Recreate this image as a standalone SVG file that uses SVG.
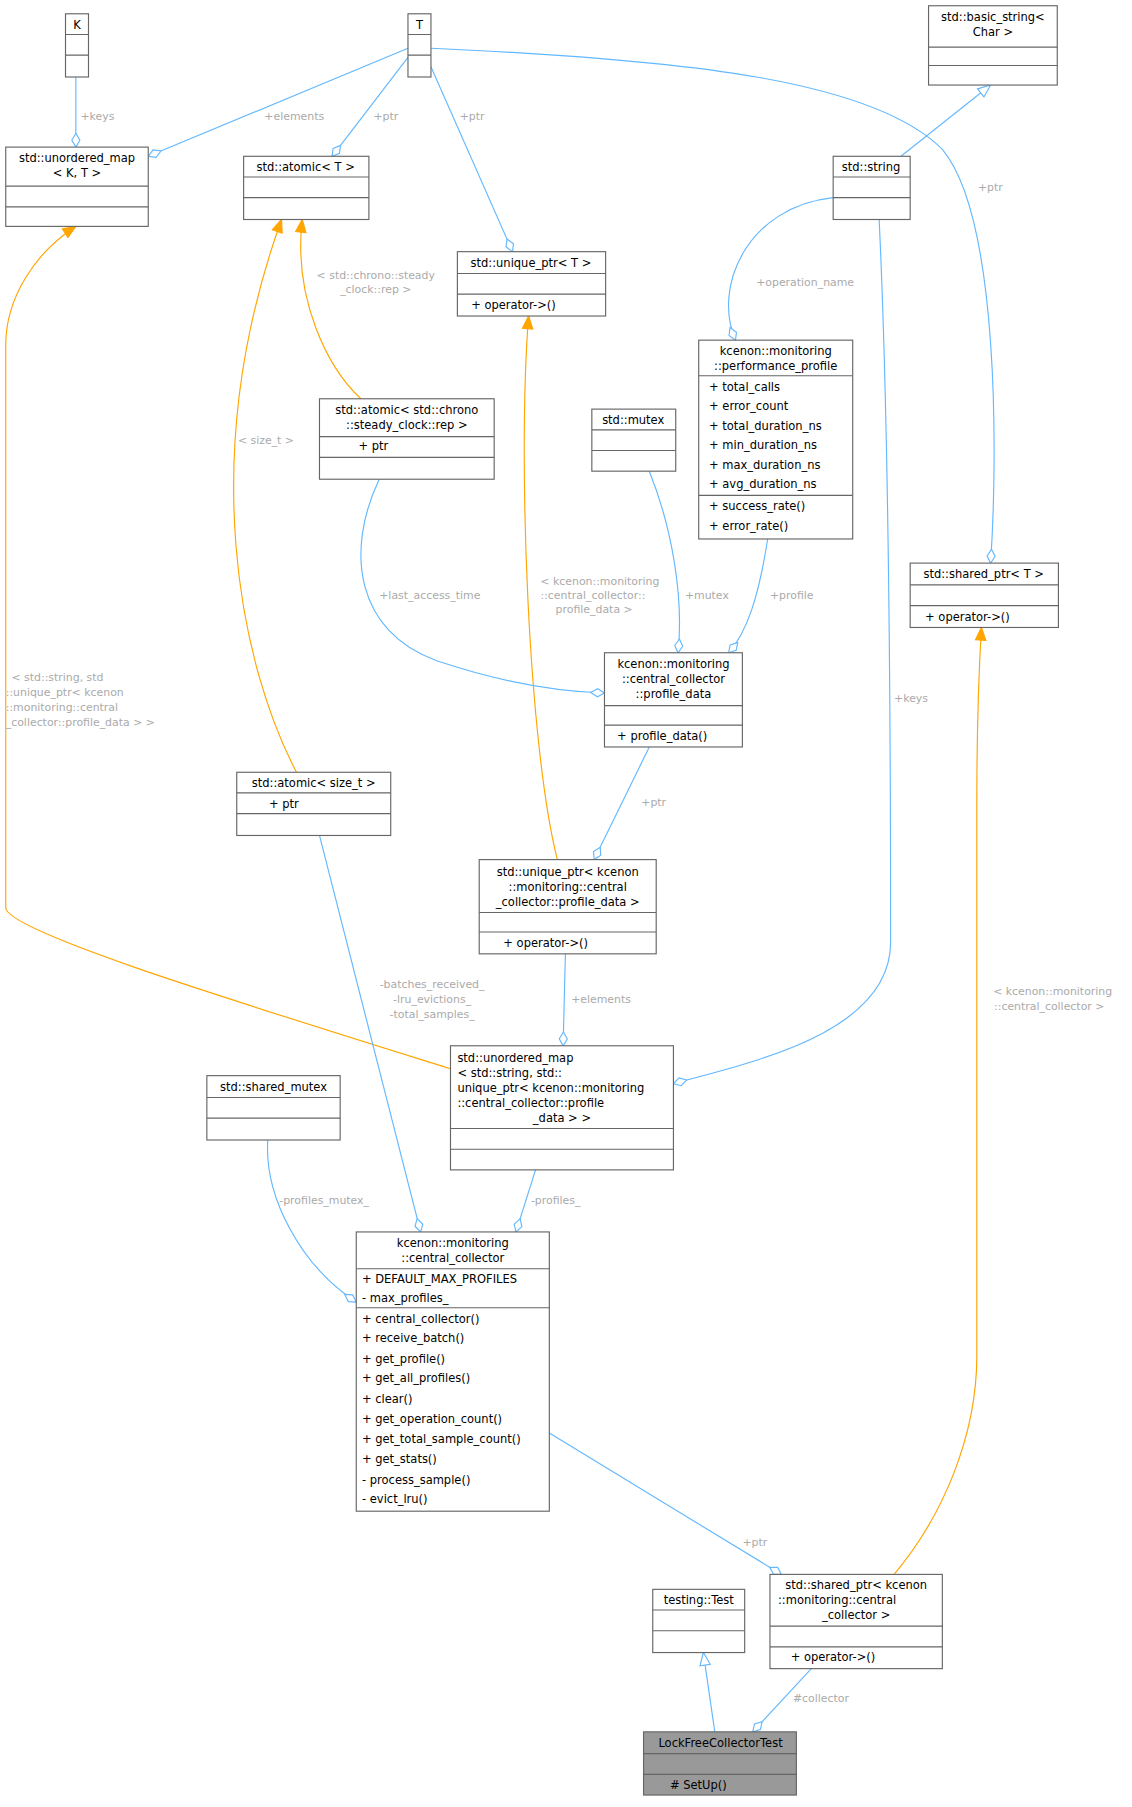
<svg xmlns="http://www.w3.org/2000/svg" width="1132" height="1807" viewBox="0 0 1132 1807">
<style>
text{font-family:"DejaVu Sans",sans-serif;font-size:10px;fill:#000}
.b{fill:#fff;stroke:#666;stroke-width:1}
.g{fill:#999;stroke:#666;stroke-width:1}
.e{fill:none;stroke:#63b8ff;stroke-width:1}
.o{fill:none;stroke:#ffa500;stroke-width:1}
.l{fill:#aaa;font-size:9.5px}
.m{text-anchor:middle}
</style>
<defs>
<marker id="d" markerUnits="userSpaceOnUse" viewBox="-1 -5 14 10" refX="12" refY="0" markerWidth="14" markerHeight="10" orient="auto"><path d="M0,0 L6,-3.5 L12,0 L6,3.5 Z" fill="#fff" stroke="#63b8ff"/></marker>
<marker id="a" markerUnits="userSpaceOnUse" viewBox="-1 -6 13 12" refX="11" refY="0" markerWidth="13" markerHeight="12" orient="auto"><path d="M0,-4.5 L11,0 L0,4.5 Z" fill="#ffa500" stroke="#ffa500"/></marker>
<marker id="t" markerUnits="userSpaceOnUse" viewBox="-1 -6 13 12" refX="11" refY="0" markerWidth="13" markerHeight="12" orient="auto"><path d="M0,-4.5 L11,0 L0,4.5 Z" fill="#fff" stroke="#63b8ff"/></marker>
</defs>
<rect width="1132" height="1807" fill="#fff"/>
<g transform="scale(1.1492)">
<g id="edges">
<path class="e" d="M66,67 L66,128" marker-end="url(#d)"/><text class="l" x="70" y="104">+keys</text>
<path class="e" d="M355,42 L129,136" marker-end="url(#d)"/><text class="l" x="230" y="104">+elements</text>
<path class="e" d="M355,50 L289,136" marker-end="url(#d)"/><text class="l" x="325" y="104">+ptr</text>
<path class="e" d="M375,58 L446,219" marker-end="url(#d)"/><text class="l" x="400" y="104">+ptr</text>
<path class="e" d="M375,42 C600,52 760,70 820,130 C870,190 868,400 862,490" marker-end="url(#d)"/><text class="l" x="851" y="166">+ptr</text>
<path class="e" d="M784,136 L862,74" marker-end="url(#t)"/>
<path class="e" d="M725,172 C650,180 620,250 640,296" marker-end="url(#d)"/><text class="l" x="658" y="249">+operation_name</text>
<path class="e" d="M765,191 C775,400 775,700 775,820 C775,900 650,925 586,943" marker-end="url(#d)"/><text class="l" x="778" y="611">+keys</text>
<path class="o" d="M314,347 C285,320 255,260 263,191" marker-end="url(#a)"/><text class="l m" x="327" y="243">&lt; std::chrono::steady</text><text class="l m" x="327" y="255">_clock::rep &gt;</text>
<path class="o" d="M258,672 C210,580 170,400 245,191" marker-end="url(#a)"/><text class="l" x="207" y="386">&lt; size_t &gt;</text>
<path class="o" d="M485,748 C460,650 450,400 460,275" marker-end="url(#a)"/><text class="l m" x="522" y="509">&lt; kcenon::monitoring</text><text class="l m" x="516" y="521">::central_collector::</text><text class="l m" x="517" y="533">profile_data &gt;</text>
<path class="o" d="M392,930 C200,870 5,810 5,790 L5,300 C5,260 30,220 66,197" marker-end="url(#a)"/><text class="l" x="10" y="593">&lt; std::string, std</text><text class="l" x="5" y="606">::unique_ptr&lt; kcenon</text><text class="l" x="5" y="619">::monitoring::central</text><text class="l" x="5" y="632">_collector::profile_data &gt; &gt;</text>
<path class="e" d="M330,417 C300,480 310,550 380,575 C440,595 490,602 526,603" marker-end="url(#d)"/><text class="l" x="330" y="521">+last_access_time</text>
<path class="e" d="M565,410 C585,460 595,520 590,568" marker-end="url(#d)"/><text class="l" x="596" y="521">+mutex</text>
<path class="e" d="M668,469 C660,520 650,550 634,568" marker-end="url(#d)"/><text class="l" x="670" y="521">+profile</text>
<path class="e" d="M565,650 L517,748" marker-end="url(#d)"/><text class="l" x="558" y="701">+ptr</text>
<path class="e" d="M492,830 L490,910" marker-end="url(#d)"/><text class="l" x="497" y="873">+elements</text>
<path class="e" d="M278,727 L366,1072" marker-end="url(#d)"/><text class="l m" x="376" y="860">-batches_received_</text><text class="l m" x="376" y="873">-lru_evictions_</text><text class="l m" x="376" y="886">-total_samples_</text>
<path class="e" d="M233,992 C230,1040 260,1100 310,1133" marker-end="url(#d)"/><text class="l" x="243" y="1048">-profiles_mutex_</text>
<path class="e" d="M466,1018 L449,1072" marker-end="url(#d)"/><text class="l" x="462" y="1048">-profiles_</text>
<path class="e" d="M478,1247 L680,1370" marker-end="url(#d)"/><text class="l" x="646" y="1345">+ptr</text>
<path class="o" d="M778,1370 C820,1320 850,1250 850,1180 L850,700 C850,620 852,580 854,546" marker-end="url(#a)"/><text class="l m" x="916" y="866">&lt; kcenon::monitoring</text><text class="l m" x="913" y="879">::central_collector &gt;</text>
<path class="e" d="M622,1507 L612,1438" marker-end="url(#t)"/>
<path class="e" d="M706,1452 L655,1507" marker-end="url(#d)"/><text class="l" x="690" y="1481">#collector</text>
</g>
<g id="K"><rect class="b" x="57" y="12" width="20" height="55"/><path class="b" d="M57,30H77M57,48H77"/><text class="m" x="67" y="25">K</text></g>
<g id="T"><rect class="b" x="355" y="12" width="20" height="55"/><path class="b" d="M355,30H375M355,48H375"/><text class="m" x="365" y="25">T</text></g>
<g id="basic_string"><rect class="b" x="808" y="5" width="112" height="69"/><path class="b" d="M808,41H920M808,57H920"/><text class="m" x="864" y="18">std::basic_string&lt;</text><text class="m" x="864" y="31">Char &gt;</text></g>
<g id="umKT"><rect class="b" x="5" y="128" width="124" height="69"/><path class="b" d="M5,162H129M5,180H129"/><text class="m" x="67" y="141">std::unordered_map</text><text class="m" x="67" y="154">&lt; K, T &gt;</text></g>
<g id="atomicT"><rect class="b" x="212" y="136" width="109" height="55"/><path class="b" d="M212,154H321M212,172H321"/><text class="m" x="266" y="149">std::atomic&lt; T &gt;</text></g>
<g id="string"><rect class="b" x="725" y="136" width="67" height="55"/><path class="b" d="M725,154H792M725,172H792"/><text class="m" x="758" y="149">std::string</text></g>
<g id="uniqueT"><rect class="b" x="398" y="219" width="129" height="56"/><path class="b" d="M398,238H527M398,256H527"/><text class="m" x="462" y="232">std::unique_ptr&lt; T &gt;</text><text x="410" y="269">+    operator-&gt;()</text></g>
<g id="perf"><rect class="b" x="608" y="296" width="134" height="173"/><path class="b" d="M608,327H742M608,431H742"/><text class="m" x="675" y="309">kcenon::monitoring</text><text class="m" x="675" y="322">::performance_profile</text><text x="617" y="340">+  total_calls</text><text x="617" y="357">+  error_count</text><text x="617" y="374">+  total_duration_ns</text><text x="617" y="391">+  min_duration_ns</text><text x="617" y="408">+  max_duration_ns</text><text x="617" y="425">+  avg_duration_ns</text><text x="617" y="444">+  success_rate()</text><text x="617" y="461">+  error_rate()</text></g>
<g id="mutex"><rect class="b" x="515" y="356" width="73" height="54"/><path class="b" d="M515,374H588M515,392H588"/><text class="m" x="551" y="369">std::mutex</text></g>
<g id="atomicChrono"><rect class="b" x="278" y="347" width="152" height="70"/><path class="b" d="M278,380H430M278,398H430"/><text class="m" x="354" y="360">std::atomic&lt; std::chrono</text><text class="m" x="354" y="373">::steady_clock::rep &gt;</text><text x="312" y="392">+         ptr</text></g>
<g id="sharedT"><rect class="b" x="792" y="490" width="129" height="56"/><path class="b" d="M792,509H921M792,527H921"/><text class="m" x="856" y="503">std::shared_ptr&lt; T &gt;</text><text x="805" y="540">+    operator-&gt;()</text></g>
<g id="profile_data"><rect class="b" x="526" y="568" width="120" height="82"/><path class="b" d="M526,614H646M526,631H646"/><text class="m" x="586" y="581">kcenon::monitoring</text><text class="m" x="586" y="594">::central_collector</text><text class="m" x="586" y="607">::profile_data</text><text x="537" y="644">+   profile_data()</text></g>
<g id="atomicSize"><rect class="b" x="206" y="672" width="134" height="55"/><path class="b" d="M206,690H340M206,708H340"/><text class="m" x="273" y="685">std::atomic&lt; size_t &gt;</text><text x="234" y="703">+        ptr</text></g>
<g id="uniqueProfile"><rect class="b" x="417" y="748" width="154" height="82"/><path class="b" d="M417,794H571M417,811H571"/><text class="m" x="494" y="762">std::unique_ptr&lt; kcenon</text><text class="m" x="494" y="775">::monitoring::central</text><text class="m" x="494" y="788">_collector::profile_data &gt;</text><text x="438" y="824">+      operator-&gt;()</text></g>
<g id="bigmap"><rect class="b" x="392" y="910" width="194" height="108"/><path class="b" d="M392,982H586M392,1000H586"/><text x="398" y="924">std::unordered_map</text><text x="398" y="937">&lt; std::string, std::</text><text x="398" y="950">unique_ptr&lt; kcenon::monitoring</text><text x="398" y="963">::central_collector::profile</text><text class="m" x="489" y="976">_data &gt; &gt;</text></g>
<g id="shared_mutex"><rect class="b" x="180" y="936" width="116" height="56"/><path class="b" d="M180,955H296M180,973H296"/><text class="m" x="238" y="949">std::shared_mutex</text></g>
<g id="central"><rect class="b" x="310" y="1072" width="168" height="243"/><path class="b" d="M310,1104H478M310,1138H478"/><text class="m" x="394" y="1085">kcenon::monitoring</text><text class="m" x="394" y="1098">::central_collector</text><text x="315" y="1116">+  DEFAULT_MAX_PROFILES</text><text x="315" y="1133">-   max_profiles_</text><text x="315" y="1151">+  central_collector()</text><text x="315" y="1168">+  receive_batch()</text><text x="315" y="1186">+  get_profile()</text><text x="315" y="1203">+  get_all_profiles()</text><text x="315" y="1221">+  clear()</text><text x="315" y="1238">+  get_operation_count()</text><text x="315" y="1256">+  get_total_sample_count()</text><text x="315" y="1273">+  get_stats()</text><text x="315" y="1291">-   process_sample()</text><text x="315" y="1308">-   evict_lru()</text></g>
<g id="test"><rect class="b" x="568" y="1383" width="80" height="55"/><path class="b" d="M568,1401H648M568,1419H648"/><text class="m" x="608" y="1396">testing::Test</text></g>
<g id="sharedCollector"><rect class="b" x="670" y="1370" width="150" height="82"/><path class="b" d="M670,1415H820M670,1433H820"/><text class="m" x="745" y="1383">std::shared_ptr&lt; kcenon</text><text x="677" y="1396">::monitoring::central</text><text class="m" x="745" y="1409">_collector &gt;</text><text x="688" y="1445">+      operator-&gt;()</text></g>
<g id="lfct"><rect class="g" x="560" y="1507" width="133" height="55"/><path class="b" d="M560,1526H693M560,1544H693"/><text class="m" x="627" y="1520">LockFreeCollectorTest</text><text x="583" y="1557">#       SetUp()</text></g>
</g>
</svg>
